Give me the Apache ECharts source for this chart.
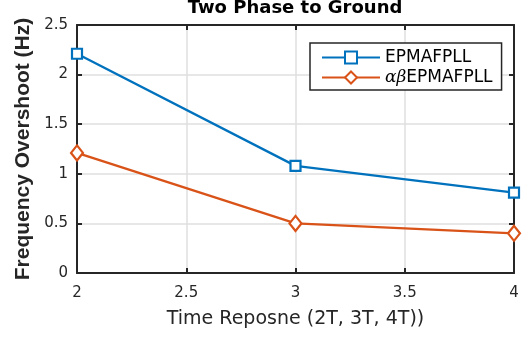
<!DOCTYPE html>
<html><head><meta charset="utf-8">
<script src="https://cdn.jsdelivr.net/npm/echarts@6/dist/echarts.min.js"></script>
<style>html,body{margin:0;padding:0;background:#fff}#c{width:528px;height:338px}</style>
</head><body><div id="c"></div>
<script>
const xValues = [2, 3, 4];
const epmafpll = [2.21, 1.08, 0.81];
const abEpmafpll = [1.21, 0.50, 0.40];
const seriesNames = ['EPMAFPLL', 'αβEPMAFPLL'];
const titleText = 'Two Phase to Ground';
const xName = 'Time Reposne (2T, 3T, 4T))';
const yName = 'Frequency Overshoot (Hz)';

const chart = echarts.init(document.getElementById('c'));
const wide = '"DejaVu Sans", Verdana, sans-serif';
const narrow = '"Liberation Sans", Arial, Helvetica, sans-serif';
const axisCommon = {
  axisLine: {show: true, onZero: false, lineStyle: {color: '#262626', width: 2}},
  axisTick: {show: true, inside: true, length: 5, lineStyle: {color: '#262626', width: 2}},
  splitLine: {show: true, lineStyle: {color: '#dfdfdf', width: 1.5}},
  axisLabel: {color: '#262626', fontSize: 15, fontFamily: wide}
};
chart.setOption({
  animation: false,
  title: {text: titleText, left: 290, textAlign: 'center', top: -6,
    textStyle: {fontSize: 18, fontWeight: 'bold', color: '#000', fontFamily: wide}},
  grid: {left: 77, right: 14, top: 25, bottom: 65},
  legend: {
    data: [{name: seriesNames[0]}, {name: seriesNames[1]}],
    orient: 'vertical', left: 310, top: 43,
    padding: [6, 9, 4, 11], itemGap: 3, itemWidth: 58, itemHeight: 15,
    borderColor: '#262626', borderWidth: 1.5, backgroundColor: '#fff',
    formatter: function (n) { return n === seriesNames[1] ? '{g|αβ}{t|EPMAFPLL}' : '{t|' + n + '}'; },
    textStyle: {rich: {
      t: {fontSize: 17, lineHeight: 20, color: '#000', fontFamily: wide},
      g: {fontSize: 17, lineHeight: 20, color: '#000', fontStyle: 'italic', fontFamily: '"DejaVu Serif", "Liberation Serif", serif'}
    }}
  },
  xAxis: [
    Object.assign({}, axisCommon, {type: 'value', min: 2, max: 4, interval: 0.5,
      name: xName, nameLocation: 'middle', nameGap: 37,
      nameTextStyle: {fontSize: 19, color: '#262626', fontFamily: wide},
      axisLabel: Object.assign({}, axisCommon.axisLabel, {margin: 13})}),
    Object.assign({}, axisCommon, {type: 'value', position: 'top', min: 2, max: 4, interval: 0.5,
      axisLabel: {show: false}, splitLine: {show: false}})
  ],
  yAxis: [
    Object.assign({}, axisCommon, {type: 'value', min: 0, max: 2.5, interval: 0.5,
      name: yName, nameLocation: 'middle', nameGap: 43,
      nameTextStyle: {fontSize: 21, fontWeight: 'bold', color: '#262626', fontFamily: narrow},
      axisLabel: Object.assign({}, axisCommon.axisLabel, {margin: 9})}),
    Object.assign({}, axisCommon, {type: 'value', position: 'right', min: 0, max: 2.5, interval: 0.5,
      axisLabel: {show: false}, splitLine: {show: false}})
  ],
  series: [
    {name: seriesNames[0], type: 'line', data: xValues.map((x, i) => [x, epmafpll[i]]),
      lineStyle: {width: 2.3, color: '#0072BD'}, symbol: 'rect', symbolSize: 10,
      itemStyle: {color: '#fff', borderColor: '#0072BD', borderWidth: 2.2}, clip: false, z: 3},
    {name: seriesNames[1], type: 'line', data: xValues.map((x, i) => [x, abEpmafpll[i]]),
      lineStyle: {width: 2.3, color: '#D95319'}, symbol: 'diamond', symbolSize: [12, 15],
      itemStyle: {color: '#fff', borderColor: '#D95319', borderWidth: 2.2}, clip: false, z: 3}
  ]
});
</script></body></html>
